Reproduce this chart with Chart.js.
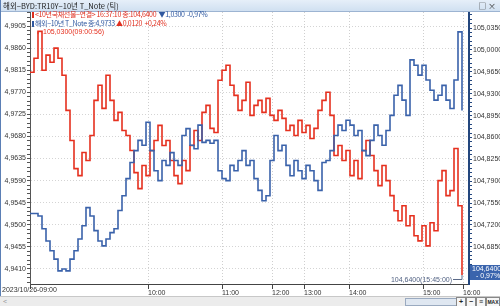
<!DOCTYPE html>
<html>
<head>
<meta charset="utf-8">
<script src="https://cdn.jsdelivr.net/npm/chart.js@4"></script>
<style>
body { margin: 0; background: #fff; overflow: hidden; }
#wrap { position: relative; width: 500px; height: 306px; font-family: "Noto Sans CJK KR", "Liberation Sans", sans-serif; }
#chart { position: absolute; left: 0; top: 0; }
#titlebar { position: absolute; left: 0; top: 0; width: 500px; height: 11px; background: linear-gradient(#e6eff9, #d0e0f1); border-bottom: 1px solid #9db4d2; font-size: 7.5px; line-height: 11px; color: #222; }
#titlebar .t { position: absolute; left: 3px; top: 0; }
#titlebar .btn { position: absolute; right: 4px; top: 0; font-size: 8px; color: #333; }
.leg { position: absolute; left: 32px; font-size: 7px; line-height: 9px; white-space: nowrap; letter-spacing: -0.35px; }
.red { color: #e03020; }
.blue { color: #2f58a0; }
.mark { display: inline-block; width: 2px; height: 6px; margin-right: 1px; vertical-align: -1px; }
#lborder { position: absolute; left: 0; top: 0; width: 1px; height: 306px; background: #5b7fb5; }
#scroll { position: absolute; left: 0; top: 296px; width: 500px; height: 10px; background: #ececec; border-top: 1px solid #c8c8c8; }
#scroll .arr { position: absolute; left: 3px; top: -1px; font-size: 7px; color: #999; }
#scroll .thumb { position: absolute; left: 405px; top: 1px; width: 50px; height: 6px; background: #dfe7f1; border: 1px solid #9aaac0; }
#scroll .b { position: absolute; top: 0px; height: 8px; border: 1px solid #888; background: #f6f6f6; font-size: 7px; line-height: 8px; text-align: center; color: #222; font-family: "Liberation Sans", sans-serif; font-weight: bold; }
</style>
</head>
<body>
<div id="wrap">
  <canvas id="chart" width="500" height="306"></canvas>
  <div id="titlebar"><span class="t">해외−BYD:TR10Y−10년 T_Note (틱)</span><span class="btn">□ ×</span></div>
  <div class="leg" style="top:10px"><span class="mark" style="background:#e03020"></span><span class="red">&lt;10년국채선물−연결&gt; 16:37:10 종:104,6400</span>&nbsp; <span class="blue">▼1,0300&nbsp; -0,97%</span></div>
  <div class="leg" style="top:19px"><span class="mark" style="background:#2f58a0"></span><span class="blue">해외−10년 T_Note 종:4,9733</span> <span class="red">▲0,0120&nbsp; +0,24%</span></div>
  <div id="lborder"></div>
  <div id="scroll">
    <span class="arr">&lt;</span>
    <div class="thumb"></div>
    <div class="b" style="left:456px;width:8px">+</div>
    <div class="b" style="left:466px;width:8px">−</div>
    <div class="b" style="left:476px;width:8px">≡</div>
    <div class="b" style="left:486px;width:12px;font-size:5px">MAX</div>
  </div>
</div>
<script>
// x axis: tick index, one index per sample
const timeLabels = ['2023/10/26-09:00', '10:00', '11:00', '12:00', '13:00', '14:00', '15:00', '16:00'];
const timeTickIdx = [0, 29.5, 48, 60.5, 68.5, 79.75, 98.25, 108.25];

// 해외-10년 T_Note (left axis, blue)
const noteVals = [
    4.9523, 4.9523, 4.9518, 4.9492, 4.9467, 4.9447, 4.9430, 4.9406, 4.9410, 4.9406,
    4.9430, 4.9447, 4.9471, 4.9498, 4.9535, 4.9518, 4.9488, 4.9467, 4.9457, 4.9471,
    4.9484, 4.9492, 4.9529, 4.9559, 4.9594, 4.9627, 4.9651, 4.9672, 4.9662, 4.9709,
    4.9651, 4.9610, 4.9590, 4.9631, 4.9621, 4.9647, 4.9631, 4.9621, 4.9682, 4.9696,
    4.9662, 4.9655, 4.9703, 4.9668, 4.9672, 4.9666, 4.9672, 4.9610, 4.9594, 4.9590,
    4.9621, 4.9610, 4.9631, 4.9651, 4.9621, 4.9631, 4.9594, 4.9570, 4.9549, 4.9559,
    4.9631, 4.9682, 4.9651, 4.9662, 4.9621, 4.9600, 4.9631, 4.9610, 4.9594, 4.9621,
    4.9610, 4.9590, 4.9570, 4.9627, 4.9631, 4.9651, 4.9682, 4.9703, 4.9692, 4.9713,
    4.9703, 4.9682, 4.9692, 4.9651, 4.9641, 4.9672, 4.9703, 4.9682, 4.9662, 4.9692,
    4.9723, 4.9764, 4.9784, 4.9754, 4.9723, 4.9836, 4.9825, 4.9805, 4.9825, 4.9795,
    4.9774, 4.9754, 4.9764, 4.9784, 4.9754, 4.9737, 4.9795, 4.9893, 4.9733
];

// 10년국채선물-연결 (right axis, red)
const futVals = [
    104.9644, 104.9868, 105.0300, 104.9676, 104.9917, 104.9804, 105.0029, 104.9868, 104.9595, 104.9034,
    104.8552, 104.8102, 104.7990, 104.8359, 104.8231, 104.8632, 104.9194, 104.9435, 104.9066, 104.9595,
    104.9194, 104.8873, 104.9001, 104.8712, 104.8632, 104.8391, 104.8038, 104.7781, 104.8151, 104.7990,
    104.8391, 104.8552, 104.8793, 104.8472, 104.8552, 104.8231, 104.7990, 104.7862, 104.8231, 104.8070,
    104.8472, 104.8712, 104.8552, 104.9001, 104.9114, 104.8745, 104.8680, 104.9515, 104.9676, 104.9756,
    104.9435, 104.9274, 104.9034, 104.9194, 104.9483, 104.8953, 104.9114, 104.9194, 104.9001, 104.9226,
    104.8953, 104.8873, 104.9034, 104.8905, 104.8712, 104.8793, 104.8632, 104.8873, 104.8680, 104.8793,
    104.8584, 104.8745, 104.9034, 104.9194, 104.9323, 104.8953, 104.8311, 104.8472, 104.8231, 104.8391,
    104.7990, 104.8231, 104.7942, 104.8391, 104.8552, 104.8311, 104.8070, 104.7829, 104.8151, 104.7910,
    104.7669, 104.7428, 104.7267, 104.7508, 104.7187, 104.7348, 104.7027, 104.6946, 104.7187, 104.6866,
    104.7235, 104.7107, 104.7910, 104.8070, 104.7669, 104.7749, 104.8423, 104.7508, 104.6400
];

const noteMajorTicks = [4.9410, 4.9455, 4.9500, 4.9545, 4.9590, 4.9635, 4.9680, 4.9725, 4.9770, 4.9815, 4.9860, 4.9905];
const futMajorTicks = [104.6850, 104.7200, 104.7550, 104.7900, 104.8250, 104.8600, 104.8950, 104.9300, 104.9650, 105.0000, 105.0350];

const RED = '#e5301f';
const BLUE = '#3a62aa';
const TICK_FONT = { family: 'Liberation Sans', size: 7 };

function fmt(v) {
    return v.toFixed(4).replace('.', ',');
}

// majors plus 4 minor marks between them
function withMinor(majors, min, max) {
    const step = majors[1] - majors[0];
    const out = [];
    for (let k = -1; k <= majors.length; k++) {
        const m = majors[0] + k * step;
        for (let j = 0; j < 5; j++) {
            const v = m + j * step / 5;
            if (v >= min && v <= max) out.push({ value: v, isMain: j === 0 && k >= 0 && k < majors.length });
        }
    }
    return out;
}

const annotate = {
    id: 'annotate',
    afterDraw(chart) {
        const c = chart.ctx;
        const xs = chart.scales.x, y2 = chart.scales.y2;
        c.save();
        c.font = '7px "Liberation Sans"';
        c.textBaseline = 'middle';

        // high point label
        let hi = 0;
        futVals.forEach((v, i) => { if (v > futVals[hi]) hi = i; });
        const hx = xs.getPixelForValue(hi), hy = y2.getPixelForValue(futVals[hi]);
        c.strokeStyle = RED;
        c.lineWidth = 1;
        c.beginPath();
        c.moveTo(hx, hy + 3); c.lineTo(hx, hy + 0.5); c.lineTo(hx + 4, hy + 0.5);
        c.stroke();
        c.fillStyle = RED;
        c.fillText('105,0300(09:00:56)', hx + 5, hy + 1);

        // last point label
        const li = futVals.length - 1;
        const lx = xs.getPixelForValue(li), ly = y2.getPixelForValue(futVals[li]);
        c.strokeStyle = '#5a6a88';
        c.beginPath();
        c.moveTo(lx - 9, ly + 4.5); c.lineTo(lx, ly + 4.5); c.lineTo(lx, ly);
        c.stroke();
        c.fillStyle = '#4f5f80';
        c.textAlign = 'right';
        c.fillText('104,6400(15:45:00)', lx - 10, ly + 5);

        // current value box on the right axis
        const bx = chart.chartArea.right + 1;
        c.fillStyle = '#3a64ad';
        c.fillRect(bx, ly - 10, 31, 15);
        c.fillStyle = '#fff';
        c.textAlign = 'left';
        c.fillText('104,6400', bx + 2, ly - 6);
        c.fillText('- 0,97%', bx + 6, ly + 1);

        // first time label sits left of its tick
        c.fillStyle = '#333';
        c.textBaseline = 'top';
        c.fillText(timeLabels[0], 2, chart.chartArea.bottom + 3);
        c.restore();
    }
};

new Chart(document.getElementById('chart'), {
    type: 'line',
    data: {
        datasets: [{
            label: '해외-10년 T_Note',
            data: noteVals.map((v, i) => ({ x: i, y: v })),
            yAxisID: 'y',
            borderColor: BLUE,
            borderWidth: 1.6,
            stepped: true,
            pointRadius: 0
        }, {
            label: '10년국채선물-연결',
            data: futVals.map((v, i) => ({ x: i, y: v })),
            yAxisID: 'y2',
            borderColor: RED,
            borderWidth: 1.6,
            stepped: true,
            pointRadius: 0
        }]
    },
    options: {
        responsive: false,
        animation: false,
        layout: { padding: { top: 12 } },
        plugins: { legend: { display: false }, tooltip: { enabled: false } },
        scales: {
            x: {
                type: 'linear',
                min: 0,
                max: 109.75,
                afterBuildTicks: s => { s.ticks = timeTickIdx.map(v => ({ value: v })); },
                afterFit: s => { s.height = 22; },
                ticks: {
                    autoSkip: false,
                    maxRotation: 0,
                    align: 'start',
                    padding: 0,
                    font: TICK_FONT,
                    color: '#333',
                    callback: (v, i) => i === 0 ? '' : timeLabels[i]
                },
                grid: { color: '#cfcfcf', tickColor: '#444', tickLength: 5 },
                border: { color: '#444', width: 1, dash: [1, 2] }
            },
            y: {
                position: 'left',
                min: 4.93793,
                max: 4.99336,
                afterBuildTicks: s => { s.ticks = withMinor(noteMajorTicks, s.min, s.max); },
                afterFit: s => { s.width = 30; },
                ticks: {
                    autoSkip: false,
                    padding: 1,
                    font: TICK_FONT,
                    color: '#333',
                    callback: (v, i, ticks) => ticks[i].isMain ? fmt(v) : ''
                },
                grid: {
                    color: ctx => ctx.tick && ctx.tick.isMain ? '#d4d4d4' : 'rgba(0,0,0,0)',
                    tickColor: '#555',
                    tickLength: 3
                },
                border: { color: '#555', width: 1, dash: [1, 2] }
            },
            y2: {
                position: 'right',
                min: 104.6256,
                max: 105.0607,
                afterBuildTicks: s => { s.ticks = withMinor(futMajorTicks, s.min, s.max); },
                afterFit: s => { s.width = 31; },
                ticks: {
                    autoSkip: false,
                    padding: 1,
                    font: TICK_FONT,
                    color: '#333',
                    callback: (v, i, ticks) => ticks[i].isMain ? fmt(v) : ''
                },
                grid: { drawOnChartArea: false, tickColor: '#24477e', tickLength: 3 },
                border: { color: '#24477e', width: 2 }
            }
        }
    },
    plugins: [annotate]
});
</script>
</body>
</html>
